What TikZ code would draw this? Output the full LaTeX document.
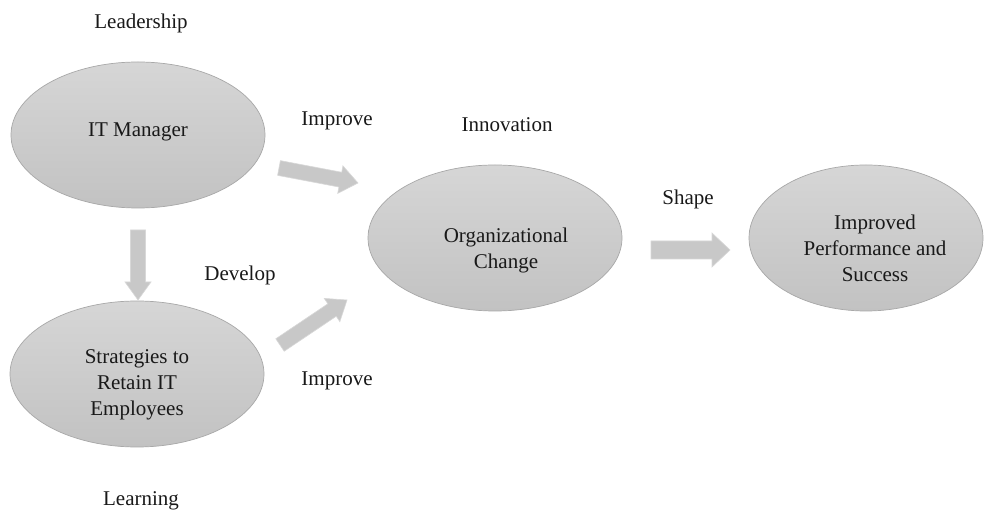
\documentclass[tikz,border=0pt]{standalone}
\usepackage{fontspec}
\setmainfont{Liberation Serif}
\usetikzlibrary{calc,shapes.geometric}
\definecolor{elltop}{HTML}{D6D6D6}
\definecolor{ellbot}{HTML}{C2C2C2}
\definecolor{ellline}{HTML}{A8A8A8}
\definecolor{arrfill}{HTML}{C8C8C8}
\definecolor{arrline}{HTML}{D8D8D8}
\tikzset{
  oval/.style={ellipse, draw=ellline, line width=0.7pt, top color=elltop, bottom color=ellbot, inner sep=0pt},
  lbl/.style={font=\fontsize{21}{26}\selectfont, align=center, inner sep=0pt, text=black!90},
  barrow/.style={fill=arrfill, draw=arrline, line width=0.6pt, line join=miter}
}
\newcommand\blockarrow[5]{%
  \coordinate (hb) at ($(#2)!#5!(#1)$);
  \draw[barrow] ($(#1)!#3!90:(#2)$) -- ($(hb)!#3!-90:(#1)$) -- ($(hb)!#4!-90:(#1)$) -- (#2)
    -- ($(hb)!#4!90:(#1)$) -- ($(hb)!#3!90:(#1)$) -- ($(#1)!#3!-90:(#2)$) -- cycle;
}
\begin{document}
\begin{tikzpicture}[x=1pt,y=1pt]
\useasboundingbox (0,0) rectangle (992,519);
\fill[white] (0,0) rectangle (992,519);

% ellipses
\node[oval, minimum width=254pt, minimum height=146pt] (e1) at (138,384) {};
\node[oval, minimum width=254pt, minimum height=146pt] (e2) at (137,145) {};
\node[oval, minimum width=254pt, minimum height=146pt] (e3) at (495,281) {};
\node[oval, minimum width=234pt, minimum height=146pt] (e4) at (866,281) {};

% texts inside
\node[lbl] (t1) at (138,387) {IT Manager};
\node[lbl] (t2) at (137,134) {Strategies to\\Retain IT\\Employees};
\node[lbl] (t3) at (506,269) {Organizational\\Change};
\node[lbl] (t4) at (875,271) {Improved\\Performance and\\Success};

% outside labels
\node[lbl] (lead) at (141,496) {Leadership};
\node[lbl] (imp1) at (337,398) {Improve};
\node[lbl] (inno) at (507,394) {Innovation};
\node[lbl] (shape) at (688,320) {Shape};
\node[lbl] (dev) at (240,244) {Develop};
\node[lbl] (imp2) at (337,138) {Improve};
\node[lbl] (learn) at (141,18) {Learning};

% block arrow end points
\coordinate (d1) at (138,289);
\coordinate (d2) at (138,219);
\coordinate (a1) at (279,351);
\coordinate (b1) at (358,336);
\coordinate (a2) at (280,174);
\coordinate (b2) at (347,219);
\coordinate (r1) at (651,269);
\coordinate (r2) at (730,269);

\blockarrow{d1}{d2}{7.5pt}{13pt}{18pt}
\blockarrow{a1}{b1}{7.5pt}{14pt}{18pt}
\blockarrow{a2}{b2}{7.5pt}{14pt}{18pt}
\blockarrow{r1}{r2}{9pt}{17pt}{18pt}
\end{tikzpicture}
\end{document}
